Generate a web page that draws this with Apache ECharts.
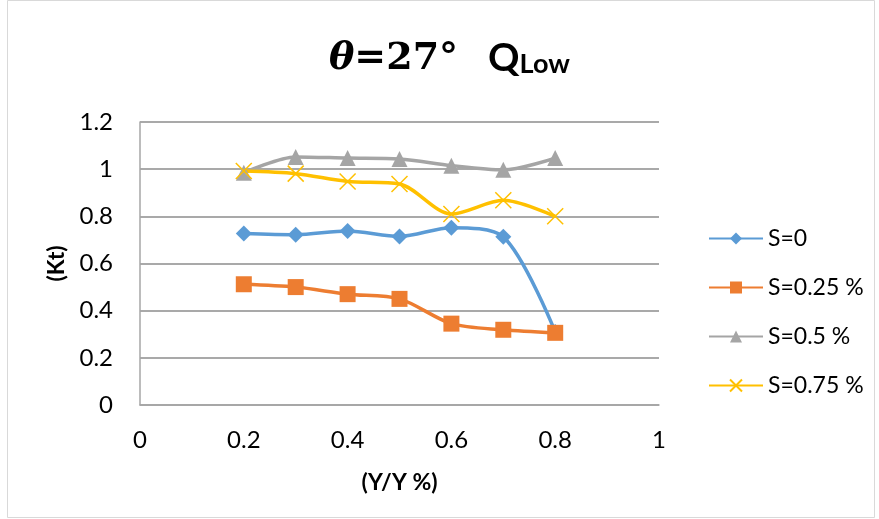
<!DOCTYPE html>
<html><head><meta charset="utf-8">
<script src="https://cdn.jsdelivr.net/npm/echarts@6/dist/echarts.min.js"></script>
<style>html,body{margin:0;padding:0;background:#fff}#c{width:879px;height:519px}</style>
</head><body><div id="c"></div>
<script>
const xValues = [0.2, 0.3, 0.4, 0.5, 0.6, 0.7, 0.8];
const s0 = [0.727, 0.722, 0.738, 0.715, 0.752, 0.713, 0.31];
const s025 = [0.512, 0.500, 0.470, 0.450, 0.345, 0.319, 0.306];
const s05 = [0.985, 1.052, 1.047, 1.043, 1.015, 0.997, 1.047];
const s075 = [0.992, 0.981, 0.948, 0.937, 0.810, 0.868, 0.800];
const seriesNames = ['S=0', 'S=0.25 %', 'S=0.5 %', 'S=0.75 %'];
const yTicks = [0, 0.2, 0.4, 0.6, 0.8, 1, 1.2];
const xTicks = [0, 0.2, 0.4, 0.6, 0.8, 1];

const pair = arr => xValues.map((x, i) => [x, arr[i]]);
const font = 'Lato, "Open Sans", sans-serif';
const xPath = 'path://M0,0L10,10M10,0L0,10';

const chart = echarts.init(document.getElementById('c'), null, {renderer: 'canvas'});
chart.setOption({
  animation: false,
  backgroundColor: '#fff',
  graphic: [{type: 'rect', shape: {x: 7.5, y: 0.5, width: 867, height: 517}, style: {fill: 'none', stroke: '#d9d9d9', lineWidth: 1}}],
  title: {
    left: 324, top: 25,
    text: '{t|θ}{e|=27°}{s|Q}{sub|Low}',
    textStyle: {
      rich: {
        t: {fontFamily: '"DejaVu Serif", serif', fontStyle: 'italic', fontWeight: 'bold', fontSize: 38, color: '#000', verticalAlign: 'bottom', lineHeight: 48},
        e: {fontFamily: '"DejaVu Serif", serif', fontSize: 38, color: '#000', verticalAlign: 'bottom', lineHeight: 48},
        s: {fontFamily: font, fontWeight: 'bold', fontSize: 39, color: '#000', verticalAlign: 'bottom', lineHeight: 48, padding: [0, 0, 0, 30]},
        sub: {fontFamily: font, fontWeight: 'bold', fontSize: 27, color: '#000', verticalAlign: 'bottom', lineHeight: 48, padding: [16, 0, 0, 0]}
      }
    }
  },
  grid: {left: 140, right: 220, top: 122, bottom: 114},
  legend: {
    orient: 'vertical', left: 708, top: 227, padding: 0, itemGap: 26, itemWidth: 54, itemHeight: 15,
    textStyle: {fontFamily: font, fontSize: 23, color: '#000'},
    data: seriesNames
  },
  xAxis: {
    type: 'value', min: 0, max: 1, interval: 0.2,
    name: '(Y/Y %)', nameLocation: 'middle', nameGap: 66,
    nameTextStyle: {fontFamily: font, fontWeight: 'bold', fontSize: 23, color: '#000'},
    axisLine: {show: true, onZero: false, lineStyle: {color: '#a6a6a6', width: 1.5}},
    axisTick: {show: false},
    splitLine: {show: false},
    axisLabel: {fontFamily: font, fontSize: 24, color: '#000', margin: 23, formatter: v => String(+v.toFixed(1))}
  },
  yAxis: {
    type: 'value', min: 0, max: 1.2, interval: 0.2,
    name: '(Kt)', nameLocation: 'middle', nameGap: 72, nameRotate: 90,
    nameTextStyle: {fontFamily: font, fontWeight: 'bold', fontSize: 23, color: '#000'},
    axisLine: {show: true, lineStyle: {color: '#a6a6a6', width: 1.5}},
    axisTick: {show: false},
    splitLine: {show: true, lineStyle: {color: '#8c8c8c', width: 1.5}},
    axisLabel: {fontFamily: font, fontSize: 24, color: '#000', margin: 27, formatter: v => String(+v.toFixed(1))}
  },
  series: [
    {name: seriesNames[0], type: 'line', smooth: 0.3, data: pair(s0), symbol: 'diamond', symbolSize: 16,
     lineStyle: {color: '#5B9BD5', width: 3.5}, itemStyle: {color: '#5B9BD5'}},
    {name: seriesNames[1], type: 'line', smooth: 0.3, data: pair(s025), symbol: 'rect', symbolSize: 16,
     lineStyle: {color: '#ED7D31', width: 3.5}, itemStyle: {color: '#ED7D31'}},
    {name: seriesNames[2], type: 'line', smooth: 0.3, data: pair(s05), symbol: 'triangle', symbolSize: 16,
     lineStyle: {color: '#A5A5A5', width: 3.5}, itemStyle: {color: '#A5A5A5'}},
    {name: seriesNames[3], type: 'line', smooth: 0.3, data: pair(s075), symbol: xPath, symbolSize: 16,
     lineStyle: {color: '#FFC000', width: 3.5}, itemStyle: {color: 'none', borderColor: '#FFC000', borderWidth: 1.5}}
  ]
});
</script></body></html>
